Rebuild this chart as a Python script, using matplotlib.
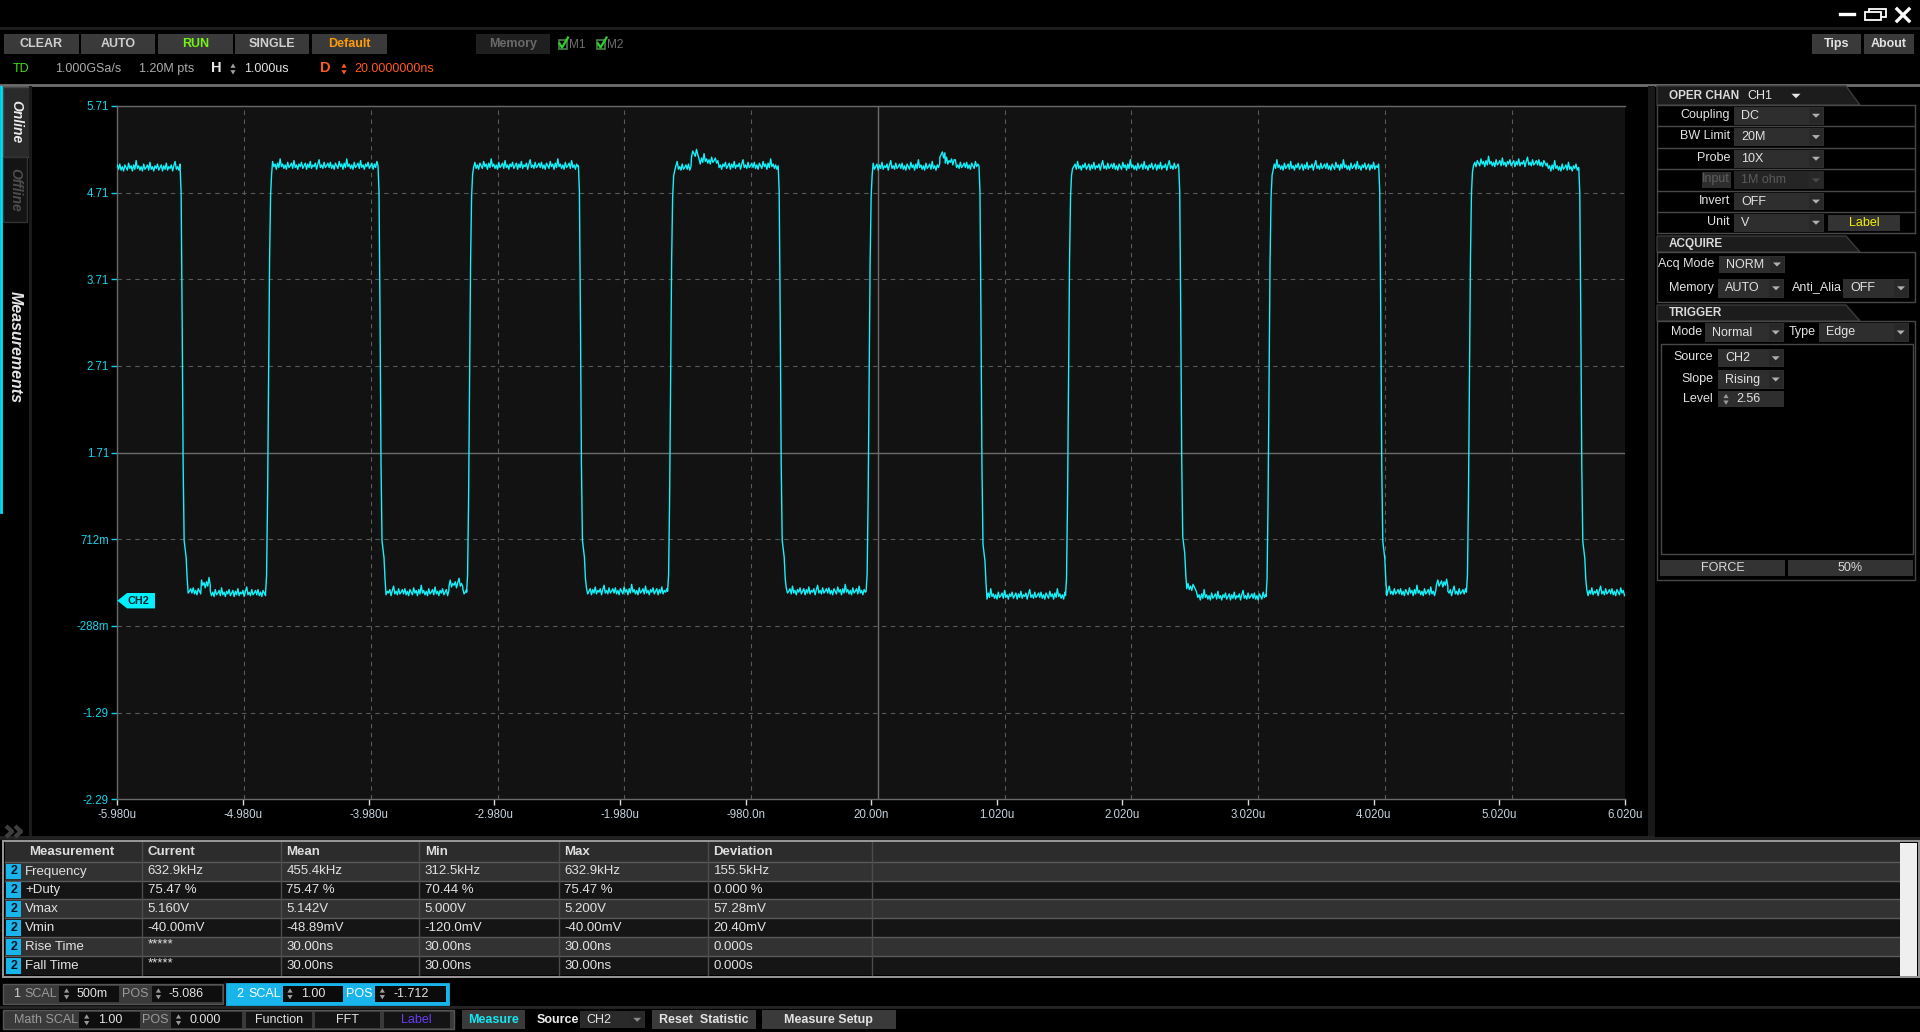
import numpy as np
import matplotlib
matplotlib.use("Agg")
import matplotlib.pyplot as plt
from matplotlib.patches import Rectangle, Polygon

plt.rcParams['font.family'] = ['Liberation Sans', 'DejaVu Sans']

# ── Colours ──────────────────────────────────────────────────────────────────
BLACK    = "#000000"
PLOT_BG  = "#121212"
TRACE    = "#16f0f8"
CYAN_TXT = "#17d2ea"
GRID     = "#5a5a5a"
BTN      = "#3a3a3a"
TXT      = "#dcdcdc"
DIM      = "#9a9a9a"
BORDER   = "#484848"
BLUE_CH  = "#18b4ec"

# ── Waveform (CH2) ───────────────────────────────────────────────────────────
# level steps: start time (us) and level (V); a jump of >2 V is an edge
STEP_T_US = [-5.98, -5.48, -5.31, -5.24, -4.80, -3.905, -3.34, -3.23, -3.20,
             -2.31, -1.60, -1.41, -1.35, -1.20, -0.72, -0.02, 0.567, 0.61, 0.69,
             0.878, 1.567, 2.468, 2.61, 3.163, 4.06, 4.52, 4.61, 4.758, 5.40,
             5.652]
STEP_V    = [5.00, 0.11, 0.19, 0.09, 5.02, 0.10, 0.19, 0.10, 5.02,
             0.11, 5.00, 5.16, 5.08, 5.02, 0.11, 5.01, 5.15, 5.07, 5.02,
             0.06, 5.01, 0.16, 0.05, 5.01, 0.10, 0.20, 0.10, 5.05, 5.00,
             0.10]
T_END_US = 6.02
SAMPLE_US = 0.01
EDGE_US = 0.008

# fuzz riding on the trace (V)
RIPPLE_V = [0.03, -0.02, 0.04, -0.03, 0.01, -0.04, 0.03, 0.00, -0.03, 0.05,
            -0.01, 0.02, -0.04, 0.03, -0.02, 0.08, -0.01, 0.02, -0.03, 0.01,
            -0.04, 0.04, -0.02, 0.00, 0.03, -0.03, 0.06, -0.02, 0.01, -0.04,
            0.02, -0.01, 0.04, -0.03, 0.00, 0.03, -0.04, 0.02, -0.02, 0.05,
            -0.03, 0.01, -0.01, 0.03, -0.04, 0.02, 0.07, -0.02, 0.01, -0.03,
            0.04, -0.02, 0.00]
RISE_SHAPE = [0.0, 0.04, 0.22, 0.50, 0.78, 0.93, 0.98]
FALL_SHAPE = [0.0, 0.06, 0.35, 0.70, 0.88, 0.90, 0.92, 0.97]

X_TICKS_US = [-5.98, -4.98, -3.98, -2.98, -1.98, -0.98, 0.02, 1.02, 2.02,
              3.02, 4.02, 5.02, 6.02]
X_TICK_LABELS = ["-5.980u", "-4.980u", "-3.980u", "-2.980u", "-1.980u",
                 "-980.0n", "20.00n", "1.020u", "2.020u", "3.020u", "4.020u",
                 "5.020u", "6.020u"]
Y_TICKS_V = [5.71, 4.71, 3.71, 2.71, 1.71, 0.712, -0.288, -1.29, -2.29]
Y_TICK_LABELS = ["5.71", "4.71", "3.71", "2.71", "1.71", "712m", "-288m",
                 "-1.29", "-2.29"]

# ── Measurement table ────────────────────────────────────────────────────────
TABLE_HEAD = ["Measurement", "Current", "Mean", "Min", "Max", "Deviation"]
MEAS_NAMES = ["Frequency", "+Duty", "Vmax", "Vmin", "Rise Time", "Fall Time"]
MEAS_CURRENT = ["632.9kHz", "75.47 %", "5.160V", "-40.00mV", "*****", "*****"]
MEAS_MEAN = ["455.4kHz", "75.47 %", "5.142V", "-48.89mV", "30.00ns", "30.00ns"]
MEAS_MIN = ["312.5kHz", "70.44 %", "5.000V", "-120.0mV", "30.00ns", "30.00ns"]
MEAS_MAX = ["632.9kHz", "75.47 %", "5.200V", "-40.00mV", "30.00ns", "30.00ns"]
MEAS_DEV = ["155.5kHz", "0.000 %", "57.28mV", "20.40mV", "0.000s", "0.000s"]

# ── Panel texts ──────────────────────────────────────────────────────────────
TOOL_BUTTONS = ["CLEAR", "AUTO", "RUN", "SINGLE", "Default"]
CHAN_LABELS = ["Coupling", "BW Limit", "Probe", "Input", "Invert", "Unit"]
CHAN_VALUES = ["DC", "20M", "10X", "1M ohm", "OFF", "V"]


def build_trace():
    times, volts = [], []
    k = 0
    for i, (t0, v) in enumerate(zip(STEP_T_US, STEP_V)):
        t1 = STEP_T_US[i + 1] if i + 1 < len(STEP_T_US) else T_END_US
        prev = STEP_V[i - 1] if i > 0 else v
        start = t0
        if abs(v - prev) > 2:
            shape = RISE_SHAPE if v > prev else FALL_SHAPE
            for j, f in enumerate(shape):
                times.append(t0 + j * EDGE_US)
                volts.append(prev + (v - prev) * f)
            start = t0 + len(shape) * EDGE_US
        t = start
        while t < t1:
            times.append(t)
            volts.append(v + RIPPLE_V[k % len(RIPPLE_V)])
            k += 1
            t += SAMPLE_US
    return np.array(times), np.array(volts)


fig = plt.figure(figsize=(19.2, 10.32), dpi=100, facecolor=BLACK)

ui = fig.add_axes([0, 0, 1, 1])
ui.set_xlim(0, 1920)
ui.set_ylim(1032, 0)
ui.axis("off")
ui.patch.set_visible(False)


def box(x0, y0, x1, y1, fc, ec="none", lw=1.0, z=2, ax=None):
    (ax or ui).add_patch(Rectangle((x0, y0), x1 - x0, y1 - y0, facecolor=fc,
                                   edgecolor=ec, linewidth=lw, zorder=z))


def label(x, y, s, color=TXT, size=9, weight="normal", ha="left", z=5, ax=None, **kw):
    (ax or ui).text(x, y, s, color=color, fontsize=size, fontweight=weight,
                    ha=ha, va="center", zorder=z, **kw)


def tri_down(x, y, color="#b4b4b4", w=4.0, h=4.0):
    ui.add_patch(Polygon([(x - w, y - h / 2), (x + w, y - h / 2), (x, y + h / 2)],
                         closed=True, facecolor=color, edgecolor="none", zorder=4))


def updown(x, y, color="#a0a0a0"):
    ui.add_patch(Polygon([(x - 2.6, y - 1.2), (x + 2.6, y - 1.2), (x, y - 5.5)],
                         facecolor=color, edgecolor="none", zorder=4))
    ui.add_patch(Polygon([(x - 2.6, y + 1.2), (x + 2.6, y + 1.2), (x, y + 5.5)],
                         facecolor=color, edgecolor="none", zorder=4))


def button(x0, y0, x1, y1, s, tc=TXT, fc=BTN, size=9, weight="bold"):
    box(x0, y0, x1, y1, fc)
    label((x0 + x1) / 2, (y0 + y1) / 2, s, tc, size, weight, ha="center")


def dropdown(x0, y0, x1, y1, s, tc="#e2e2e2", fc="#2e2e2e", arrow="#b0b0b0"):
    box(x0, y0, x1, y1, fc)
    box(x1 - 15, y0 + 1, x1 - 1, y1 - 1, "#282828", z=3)
    tri_down(x1 - 8, (y0 + y1) / 2, arrow)
    label(x0 + 7, (y0 + y1) / 2, s, tc, 9)


def header_tab(y0, y1, s):
    ui.add_patch(Polygon([(1657, y1), (1657, y0), (1846, y0), (1860, y1)],
                         closed=True, facecolor="#1c1c1c", edgecolor="#3a3a3a",
                         linewidth=1, zorder=2))
    label(1669, (y0 + y1) / 2 + 0.5, s, "#dadada", 8.5, "bold")


# ── Title bar / toolbar ──────────────────────────────────────────────────────
ui.plot([1840, 1854], [14, 14], color="white", lw=2.4)
box(1869, 9, 1886, 16.5, "none", ec="white", lw=1.3)
box(1865, 12, 1881, 19.5, BLACK, ec="white", lw=1.3, z=3)
ui.plot([1897, 1909], [9, 21], color="white", lw=2.4)
ui.plot([1897, 1909], [21, 9], color="white", lw=2.4)
ui.plot([0, 1920], [28, 28], color="#1e1e1e", lw=2)
ui.plot([0, 1920], [85, 85], color="#6e6e6e", lw=2)

tool_x = [(4, 78.6), (80.8, 155), (158, 232.6), (235, 309), (312, 386.6)]
tool_c = ["#cfcfcf", "#cfcfcf", "#74f21c", "#cfcfcf", "#ff9a0a"]
for (x0, x1), s, c in zip(tool_x, TOOL_BUTTONS, tool_c):
    button(x0, 34, x1, 53.7, s, c)
button(476, 34, 550, 53.7, "Memory", "#6a6a6a", fc="#1f1f1f")
for x, s in [(558.5, "M1"), (597, "M2")]:
    box(x, 39.5, x + 8, 48.5, "none", ec="#4a844a", lw=1.2)
    ui.plot([x + 1, x + 3.5, x + 9.5], [43.5, 47.5, 37.5], color="#2fd02f", lw=1.6, zorder=5)
    label(x + 10, 44.5, s, "#707070", 8.5)
button(1812, 34, 1861, 53.7, "Tips", "#e2e2e2")
button(1864, 34, 1914, 53.7, "About", "#e2e2e2")

label(12.5, 69, "TD", "#44dd22", 9)
label(55, 69, "1.000GSa/s", "#ababab", 9)
label(139, 69, "1.20M pts", "#ababab", 9)
label(211, 68.5, "H", "#e8e8e8", 10.5, "bold")
updown(233, 69, "#a0a0a0")
label(244, 69, "1.000us", "#e2e2e2", 9)
label(320, 68.5, "D", "#ff5a1e", 10.5, "bold")
updown(344, 69, "#ff5a1e")
label(354, 69, "20.0000000ns", "#ff5a1e", 9)

# ── Left side bar ────────────────────────────────────────────────────────────
box(3, 87, 30, 157, "#2a2a2a", ec="#4a4a4a", lw=1)
label(16, 122, "Online", "#ececec", 10, "bold", ha="center", rotation=-90, style="italic")
box(3, 157, 27, 222, "#141414", ec="#333333", lw=1)
label(15, 190, "Offline", "#4e4e4e", 10, "bold", ha="center", rotation=-90, style="italic")
label(15, 347, "Measurements", "#e6e6e6", 11.5, "bold", ha="center", rotation=-90, style="italic")
ui.plot([1, 1], [87, 512], color="#00e0f8", lw=2, zorder=6)
box(29, 86, 32, 836, "#1a1a1a")
for cx in (6, 15):
    ui.plot([cx, cx + 6, cx], [826, 831.5, 837], color="#3e3e3e", lw=3,
            solid_capstyle="butt", zorder=5)
box(1648, 86, 1655, 837, "#181818")
ui.plot([0, 1652], [836.5, 836.5], color="#262626", lw=2)

# ── Right control panel ──────────────────────────────────────────────────────
header_tab(86, 105, "OPER CHAN")
label(1747, 96, "CH1", "#e6e6e6", 9)
tri_down(1796, 96, "#e6e6e6", 4.5, 4.5)
rows_y = [105, 126, 147.7, 169.3, 191, 211.7, 233.3]
for y in rows_y:
    ui.plot([1657, 1915], [y, y], color=BORDER, lw=1, zorder=3)
ui.plot([1657, 1657], [105, 233.3], color=BORDER, lw=1, zorder=3)
ui.plot([1915, 1915], [105, 233.3], color=BORDER, lw=1, zorder=3)
for i, (lab, val) in enumerate(zip(CHAN_LABELS, CHAN_VALUES)):
    y0, y1 = rows_y[i] + 2, rows_y[i + 1] - 1.5
    ym = (y0 + y1) / 2 - 1
    if lab == "Input":
        box(1702, y0 + 1, 1731, y1 - 1, "#2e2e2e")
        label(1730, ym, lab, "#5e5e5e", 9, ha="right")
        dropdown(1734, y0, 1824, y1, val, tc="#5a5a5a", fc="#252525", arrow="#4a4a4a")
    else:
        label(1730, ym, lab, "#e2e2e2", 9, ha="right")
        dropdown(1734, y0, 1824, y1, val)
button(1828, 215, 1900, 230.7, "Label", "#f0f000", fc="#333333", weight="normal")

header_tab(236, 252, "ACQUIRE")
box(1657, 252, 1915, 301.7, "none", ec=BORDER, lw=1)
label(1714, 264, "Acq Mode", "#e2e2e2", 9, ha="right")
dropdown(1719, 255.7, 1785, 273.3, "NORM")
label(1714, 288, "Memory", "#e2e2e2", 9, ha="right")
dropdown(1718, 279, 1784, 297.7, "AUTO")
label(1792, 287.5, "Anti_Alia", "#e2e2e2", 9)
dropdown(1843, 279, 1909, 297.7, "OFF")

header_tab(305, 321, "TRIGGER")
box(1657, 321, 1915, 580, "none", ec=BORDER, lw=1)
label(1671, 332, "Mode", "#e2e2e2", 9)
dropdown(1705, 323.3, 1783.7, 341.7, "Normal")
label(1789, 332.5, "Type", "#e2e2e2", 9)
dropdown(1819, 323.3, 1908.7, 341.7, "Edge")
box(1660.7, 344.3, 1912.7, 554.3, "none", ec=BORDER, lw=1)
label(1713, 357, "Source", "#e2e2e2", 9, ha="right")
dropdown(1718, 349.3, 1783.7, 367.3, "CH2")
label(1713, 379, "Slope", "#e2e2e2", 9, ha="right")
dropdown(1718, 370.3, 1783.7, 388.7, "Rising")
label(1713, 399.5, "Level", "#e2e2e2", 9, ha="right")
box(1718, 391.3, 1783.7, 407.3, "#2e2e2e")
updown(1726, 399.3, "#9a9a9a")
label(1736, 399.3, "2.56", "#e2e2e2", 9)
button(1660, 560, 1784.7, 575.7, "FORCE", "#d8d8d8", fc="#333333", weight="normal")
button(1788, 560, 1912.7, 575.7, "50%", "#d8d8d8", fc="#333333", weight="normal")

# ── Measurement table ────────────────────────────────────────────────────────
ui.plot([0, 1920], [838, 838], color="#222222", lw=2)
cols_x = [4.6, 141.8, 280.7, 419, 558.6, 707.8, 872]
rows_t = [841, 862.3, 880.7, 899.3, 918.3, 937.3, 956.3, 975.3]
box(4.6, rows_t[0], 1900, rows_t[1], "#2c2c2c", z=1)
for r in range(len(MEAS_NAMES)):
    box(4.6, rows_t[r + 1], 1900, rows_t[r + 2],
        "#323232" if r % 2 == 0 else "#151515", z=1)
for y in rows_t[1:-1]:
    ui.plot([4.6, 1900], [y, y], color="#5a5a5a", lw=1, zorder=3)
for x in cols_x[1:]:
    ui.plot([x, x], [rows_t[0], rows_t[-1]], color="#4c4c4c", lw=1, zorder=3)
box(3, 841, 1918.5, 977, "none", ec="#9a9a9a", lw=1.4, z=4)
box(1900, 843, 1917, 976, "#efefef", z=4)

hy = (rows_t[0] + rows_t[1]) / 2
label(71.8, hy, TABLE_HEAD[0], "#dedede", 9.5, "bold", ha="center")
for x, s in zip(cols_x[1:6], TABLE_HEAD[1:]):
    label(x + 5.8, hy, s, "#dedede", 9.5, "bold")
for r, name in enumerate(MEAS_NAMES):
    y0, y1 = rows_t[r + 1], rows_t[r + 2]
    ym = (y0 + y1) / 2
    box(6.3, y0 + 1.5, 21.2, y1 - 1.5, BLUE_CH, z=4)
    label(13.7, ym, "2", "#0c1420", 9, "bold", ha="center")
    label(25.3, ym, name, "#e2e2e2", 9.5)
    vals = [MEAS_CURRENT[r], MEAS_MEAN[r], MEAS_MIN[r], MEAS_MAX[r], MEAS_DEV[r]]
    for x, s in zip(cols_x[1:6], vals):
        label(x + 5.8, ym - (2 if s == "*****" else 0), s, "#e2e2e2", 9.5)

# ── Channel / math bars ──────────────────────────────────────────────────────
cy0, cy1 = 984, 1003.7
cym = (cy0 + cy1) / 2
box(3, cy0, 222.7, cy1, BTN, ec="#555555", lw=1)
label(12.6, cym, "1", "#cfcfcf", 9)
label(24.7, cym, "SCAL", DIM, 9)
box(59, cy0 + 1.5, 119.4, cy1 - 1.5, "#0e0e0e", z=3)
updown(66.6, cym, "#9a9a9a")
label(76.3, cym, "500m", "#e2e2e2", 9)
label(122.3, cym, "POS", DIM, 9)
box(151.5, cy0 + 1.5, 221.6, cy1 - 1.5, "#0e0e0e", z=3)
updown(158.4, cym, "#9a9a9a")
label(168.2, cym, "-5.086", "#e2e2e2", 9)

box(226.7, cy0, 448.3, cy1, BLUE_CH, ec=BLUE_CH, lw=2)
label(236, cym, "2", "white", 9)
label(248, cym, "SCAL", "white", 9)
box(283, cy0 + 1.5, 343.3, cy1 - 1.5, "#0b0b0b", z=3)
updown(290, cym, "#a0a0a0")
label(300.8, cym, "1.00", "#e2e2e2", 9)
label(345.6, cym, "POS", "white", 9)
box(374.9, cy0 + 1.5, 446, cy1 - 1.5, "#0b0b0b", z=3)
updown(382.3, cym, "#a0a0a0")
label(393.2, cym, "-1.712", "#e2e2e2", 9)

ui.plot([0, 1920], [1006.5, 1006.5], color="#262626", lw=2)

my0, my1 = 1010.3, 1029.3
mym = (my0 + my1) / 2
box(3, my0, 453.5, my1, BTN, ec="#555555", lw=1)
label(13.8, mym, "Math SCAL", DIM, 9)
box(79.2, my0 + 1.5, 139.5, my1 - 1.5, "#0e0e0e", z=3)
updown(86.7, mym, "#9a9a9a")
label(97.6, mym, "1.00", "#e2e2e2", 9)
label(141.8, mym, "POS", DIM, 9)
box(171, my0 + 1.5, 242.3, my1 - 1.5, "#0e0e0e", z=3)
updown(178.5, mym, "#9a9a9a")
label(189.4, mym, "0.000", "#e2e2e2", 9)
button(245.7, my0 + 1.5, 311.7, my1 - 1.5, "Function", "#e2e2e2", fc="#141414", weight="normal")
button(315, my0 + 1.5, 380, my1 - 1.5, "FFT", "#e2e2e2", fc="#141414", weight="normal")
button(383.5, my0 + 1.5, 449.5, my1 - 1.5, "Label", "#6a3cf2", fc="#141414", weight="normal")
button(461.5, my0, 525.3, my1, "Measure", "#14e6f2")
label(536.2, mym, "Source", "#ececec", 9, "bold")
dropdown(579.8, my0 + 1, 645.2, my1 - 1, "CH2", fc="#2a2a2a", arrow="#8a8a8a")
button(651.6, my0, 755.5, my1, "Reset  Statistic", "#e2e2e2")
button(761.8, my0, 895.5, my1, "Measure Setup", "#e2e2e2")

# ── Scope display ────────────────────────────────────────────────────────────
L, R, T, B = 117.3, 1625.0, 106.0, 799.3
ax = fig.add_axes([L / 1920, 1 - B / 1032, (R - L) / 1920, (B - T) / 1032])
ax.set_facecolor(PLOT_BG)
ax.set_xlim(X_TICKS_US[0], X_TICKS_US[-1])
ax.set_ylim(Y_TICKS_V[-1], Y_TICKS_V[0])

grid_div = 1.0088
for k in range(1, 12):
    gx = X_TICKS_US[0] + k * grid_div
    if k == 6:
        ax.axvline(gx, color="#6c6c6c", lw=1.0, zorder=1)
    else:
        ax.axvline(gx, color=GRID, lw=0.8, ls=(0, (4, 4)), zorder=1)
for gy in Y_TICKS_V[1:-1]:
    if gy == 1.71:
        ax.axhline(gy, color="#6c6c6c", lw=1.0, zorder=1)
    else:
        ax.axhline(gy, color=GRID, lw=0.8, ls=(0, (4, 4)), zorder=1)

t_us, v = build_trace()
ax.plot(t_us, v, color=TRACE, lw=1.0, zorder=3)

ax.set_xticks(X_TICKS_US)
ax.set_xticklabels(X_TICK_LABELS, fontsize=8.3, color="#c6d2de")
ax.set_yticks(Y_TICKS_V)
ax.set_yticklabels(Y_TICK_LABELS, fontsize=8.3, color=CYAN_TXT)
ax.tick_params(axis="x", colors="#dcdcdc", length=4, width=1, pad=3,
               labelcolor="#c6d2de")
ax.tick_params(axis="y", colors=CYAN_TXT, length=4, width=1, pad=2,
               labelcolor=CYAN_TXT)
for side in ("left", "top", "bottom"):
    ax.spines[side].set_color("#6a6a6a")
    ax.spines[side].set_linewidth(1.0)
ax.spines["right"].set_visible(False)

# CH2 ground marker on top
top = fig.add_axes([0, 0, 1, 1], zorder=10)
top.set_xlim(0, 1920)
top.set_ylim(1032, 0)
top.axis("off")
top.patch.set_visible(False)
top.add_patch(Polygon([(117.3, 600.7), (127, 593), (155, 593), (155, 608.4), (127, 608.4)],
                      closed=True, facecolor="#00f0ff", edgecolor="none"))
top.text(138, 600.9, "CH2", color="#0a2230", fontsize=7.8, fontweight="bold",
         ha="center", va="center")

fig.savefig("out.png", dpi=100, facecolor=BLACK)
plt.close(fig)
